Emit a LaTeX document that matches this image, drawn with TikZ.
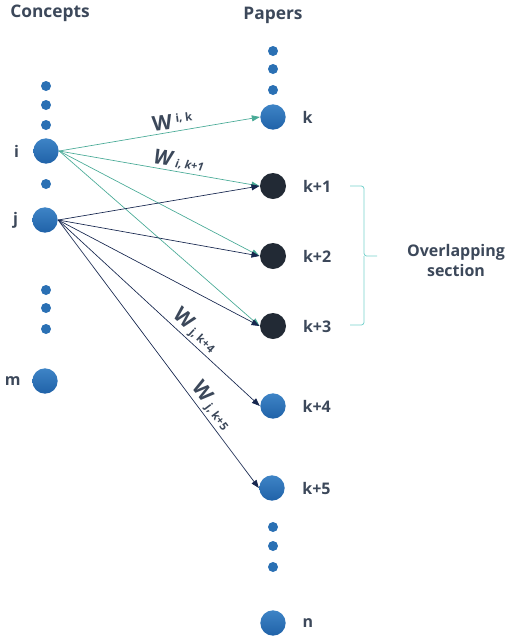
\documentclass[tikz,border=0pt]{standalone}
\usepackage{fontspec}
\setmainfont{Open Sans}
\usetikzlibrary{positioning,arrows.meta}

\definecolor{txtslate}{RGB}{60,72,90}
\definecolor{ballblue}{RGB}{42,112,180}
\definecolor{balltop}{RGB}{62,132,198}
\definecolor{ballbot}{RGB}{32,98,168}
\definecolor{balldark}{RGB}{34,42,53}
\definecolor{linkteal}{RGB}{72,170,150}
\definecolor{linknavy}{RGB}{22,38,78}
\definecolor{bracecol}{RGB}{120,210,205}

\tikzset{every picture/.style={line width=0.75pt}}
\tikzset{
  concept/.style={circle,inner sep=0pt,minimum size=19pt,top color=balltop,bottom color=ballbot},
  paperdark/.style={circle,inner sep=0pt,minimum size=19.5pt,fill=balldark},
  dotnode/.style={circle,inner sep=0pt,minimum size=7.5pt,fill=ballblue},
  tag/.style={text=txtslate,inner sep=0pt,font=\bfseries\fontsize{12}{14}\selectfont},
  head/.style={text=txtslate,font=\bfseries\fontsize{13}{15}\selectfont},
  ilink/.style={draw=linkteal,line width=0.5pt,-{Triangle[length=6pt,width=4.5pt]}},
  jlink/.style={draw=linknavy,line width=0.5pt,-{Triangle[length=6pt,width=4.5pt]}},
  wlabel/.style={text=txtslate,anchor=south,inner sep=1.5pt}
}
\newcommand{\wbig}{\bfseries\fontsize{15.5}{16}\selectfont}
\newcommand{\wsmall}{\bfseries\fontsize{8.5}{9}\selectfont}

\begin{document}
\begin{tikzpicture}[x=0.75pt,y=0.75pt,yscale=-1,xscale=1]
%set diagram left start at 0, and has height of 640
\useasboundingbox (0,0) rectangle (508,640);

% Text Node
\node[head] (hconc) at (50,13) {Concepts};
% Text Node
\node[head] (hpap) at (273,15) {Papers};

%Shape: Circle [concepts]
\foreach \y [count=\n] in {86,105,125,184,290,308,329} \node[dotnode] (cdot\n) at (46,\y) {};
\node[concept] (i) at (46,151) {};
\node[concept] (j) at (45,220) {};
\node[concept] (m) at (45,381) {};

%Shape: Circle [papers]
\foreach \y [count=\n] in {51,69,90,527,546,567} \node[dotnode] (pdot\n) at (273,\y) {};
\node[concept] (k) at (273,117) {};
\node[paperdark] (k1) at (273,186) {};
\node[paperdark] (k2) at (273,256) {};
\node[paperdark] (k3) at (273,326) {};
\node[concept] (k4) at (273,406) {};
\node[concept] (k5) at (272,488) {};
\node[concept] (n) at (273,623) {};

% Text Node
\node[tag,left=10pt of i] (li) {i};
\node[tag,left=10pt of j] (lj) {j};
\node[tag,left=8pt of m] (lm) {m};
\node[tag,right=12pt of k] (lk) {k};
\node[tag,right=12pt of k1] (lk1) {k+1};
\node[tag,right=12pt of k2] (lk2) {k+2};
\node[tag,right=12pt of k3] (lk3) {k+3};
\node[tag,right=12pt of k4] (lk4) {k+4};
\node[tag,right=12.5pt of k5] (lk5) {k+5};
\node[tag,right=12pt of n] (ln) {n};

%Straight Lines [from i]
\draw[ilink] (i.east) -- (k.west) node[wlabel,pos=0.57,rotate=7] {{\wbig W}\hspace{3pt}{\wsmall\raisebox{5pt}{i, k}}};
\draw[ilink] (i.east) -- (k1.west) node[wlabel,pos=0.59,rotate=-8] {{\wbig\itshape W}\hspace{3pt}{\wsmall\itshape\raisebox{-1pt}{i, k+1}}};
\draw[ilink] (i.east) -- (k2.west);
\draw[ilink] (i.east) -- (k3.west);

%Straight Lines [from j]
\draw[jlink] (j.east) -- (k1.west);
\draw[jlink] (j.east) -- (k2.west);
\draw[jlink] (j.east) -- (k3.west);
\draw[jlink] (j.east) -- (k4.west) node[wlabel,pos=0.64,rotate=-42.6] {{\wbig W}\hspace{3pt}{\wsmall\raisebox{-1pt}{j, k+4}}};
\draw[jlink] (j.east) -- (k5.west) node[wlabel,pos=0.72,rotate=-53] {{\wbig W}\hspace{3pt}{\wsmall\raisebox{-1pt}{j, k+5}}};

%Shape: Brace
\draw[bracecol,line width=0.6pt,rounded corners=2pt] (350,186) -| (364,256) -- (377,256);
\draw[bracecol,line width=0.6pt,rounded corners=2pt] (364,256) |- (350,325);

% Text Node
\node[tag,align=center,font=\bfseries\fontsize{12}{15}\selectfont] (ovl) at (456,260) {Overlapping\\section};

\end{tikzpicture}
\end{document}
